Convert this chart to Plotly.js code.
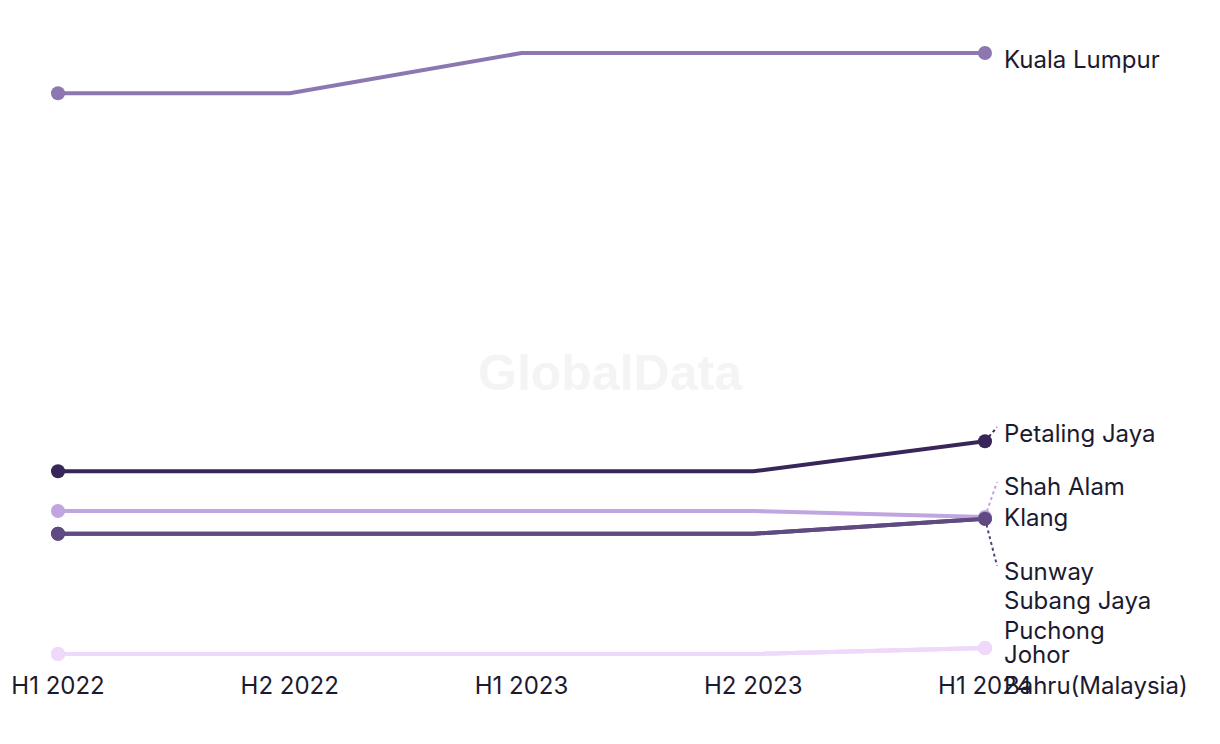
<!DOCTYPE html>
<html>
<head>
<meta charset="utf-8">
<script src="https://cdn.plot.ly/plotly-3.0.1.min.js"></script>
<style>html,body{margin:0;padding:0;background:#fff;}#chart{width:1220px;height:744px;}</style>
</head>
<body>
<div id="chart"></div>
<script>
// ---- data ----
var periods = ["H1 2022", "H2 2022", "H1 2023", "H2 2023", "H1 2024"];
var seriesNames = ["Kuala Lumpur", "Petaling Jaya", "Shah Alam", "Sunway", "Klang", "Subang Jaya", "Puchong", "Johor Bahru(Malaysia)"];
var kualaLumpur  = [93.3, 93.3, 100, 100, 100];
var petalingJaya = [30.4, 30.4, 30.4, 30.4, 35.4];
var shahAlam     = [23.8, 23.8, 23.8, 23.8, 22.8];
var sunway       = [20.0, 20.0, 20.0, 20.0, 22.5];
var klang        = [20.0, 20.0, 20.0, 20.0, 22.5];
var subangJaya   = [0, 0, 0, 0, 1];
var puchong      = [0, 0, 0, 0, 1];
var johorBahru   = [0, 0, 0, 0, 1];

// ---- styles ----
var colors = {
  "Kuala Lumpur": "#8d77b1",
  "Petaling Jaya": "#38255a",
  "Shah Alam": "#c0a5e0",
  "Sunway": "#52407a",
  "Klang": "#5f4a82",
  "Subang Jaya": "#efd9fb",
  "Puchong": "#efd9fb",
  "Johor Bahru(Malaysia)": "#efd9fb"
};
// label placement: y shift px (up positive), leader end (px up)
var labelStyle = {
  "Kuala Lumpur": {text: "Kuala Lumpur", dy: -6, leader: false},
  "Petaling Jaya": {text: "Petaling Jaya", dy: 8, leader: true, ly: 14},
  "Shah Alam": {text: "Shah Alam", dy: 30, leader: true, ly: 35},
  "Sunway": {text: "Sunway", dy: -53, leader: true, ly: -47},
  "Klang": {text: "Klang", dy: 1, leader: false},
  "Subang Jaya": {text: "Subang Jaya", dy: 47, leader: false},
  "Puchong": {text: "Puchong", dy: 17, leader: false},
  "Johor Bahru(Malaysia)": {text: "Johor<br>Bahru(Malaysia)", dy: -22, leader: false}
};

var values = {
  "Kuala Lumpur": kualaLumpur, "Petaling Jaya": petalingJaya, "Shah Alam": shahAlam,
  "Sunway": sunway, "Klang": klang, "Subang Jaya": subangJaya, "Puchong": puchong,
  "Johor Bahru(Malaysia)": johorBahru
};

var drawOrder = ["Subang Jaya", "Puchong", "Johor Bahru(Malaysia)", "Sunway", "Shah Alam", "Klang", "Petaling Jaya", "Kuala Lumpur"];
var xIdx = periods.map(function(_, i){ return i; });
var FONT = "Inter, 'Noto Sans', sans-serif";

var traces = drawOrder.map(function(name){
  return {
    type: "scatter", mode: "lines",
    x: xIdx, y: values[name], name: name,
    line: {color: colors[name], width: 4},
    cliponaxis: false, hoverinfo: "skip", showlegend: false
  };
});
drawOrder.forEach(function(name){
  var v = values[name];
  traces.push({
    type: "scatter", mode: "markers",
    x: [xIdx[0], xIdx[xIdx.length - 1]],
    y: [v[0], v[v.length - 1]],
    marker: {color: colors[name], size: 14},
    cliponaxis: false, hoverinfo: "skip", showlegend: false
  });
});

var lastX = xIdx[xIdx.length - 1];
var annotations = [];
var shapes = [];
seriesNames.forEach(function(name){
  var v = values[name];
  var ls = labelStyle[name];
  annotations.push({
    x: lastX, y: v[v.length - 1], xref: "x", yref: "y",
    text: ls.text, showarrow: false,
    xanchor: "left", yanchor: "middle", align: "left",
    xshift: 17, yshift: ls.dy,
    font: {family: FONT, size: 24, color: "#1c1a30"}
  });
  if (ls.leader) {
    shapes.push({
      type: "line", xref: "paper", yref: "y",
      xsizemode: "pixel", xanchor: 1, x0: 0, x1: 12,
      ysizemode: "pixel", yanchor: v[v.length - 1], y0: 0, y1: ls.ly,
      line: {color: colors[name], width: 2, dash: "dot"},
      layer: "below"
    });
  }
});
annotations.push({
  x: 0.5955, y: 0.469, xref: "paper", yref: "paper",
  text: "<b>GlobalData</b>", showarrow: false,
  font: {family: "Liberation Sans, Arial, sans-serif", size: 50, color: "#f4f4f4"}
});

var layout = {
  width: 1220, height: 744,
  margin: {l: 58, r: 235, t: 41, b: 78},
  paper_bgcolor: "#ffffff", plot_bgcolor: "#ffffff",
  xaxis: {
    range: [0, 4], tickvals: xIdx, ticktext: periods,
    showgrid: false, zeroline: false, showline: false, ticks: "",
    ticklabelstandoff: 3,
    tickfont: {family: FONT, size: 24, color: "#1c1a30"},
    fixedrange: true
  },
  yaxis: {
    range: [-2, 102], visible: false, showgrid: false, zeroline: false, fixedrange: true
  },
  annotations: annotations,
  shapes: shapes,
  showlegend: false
};

Plotly.newPlot("chart", traces, layout, {displayModeBar: false, staticPlot: true});
</script>
</body>
</html>
